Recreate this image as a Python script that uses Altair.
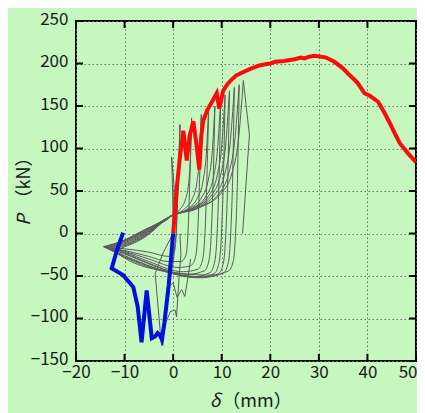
import altair as alt
import pandas as pd

# ---------------- data ----------------
x_ticks = [-20, -10, 0, 10, 20, 30, 40, 50]
y_ticks = [-150, -100, -50, 0, 50, 100, 150, 200, 250]

# loading (upper) branches of the gray hysteresis loops: tip -> peak
up_x = [
    [-12.5, -6, -0.3, 0.38, 0.89, 1.15, 1.28, 1.4],
    [-13.0, -6, -0.3, 1.34, 2.57, 3.19, 3.51, 3.8],
    [-13.5, -6, -0.3, 2.14, 3.97, 4.89, 5.37, 5.8],
    [-14.0, -6, -0.3, 2.74, 5.02, 6.16, 6.77, 7.3],
    [-14.4, -6, -0.3, 3.26, 5.93, 7.27, 8.0, 8.6],
    [-14.2, -6, -0.3, 3.74, 6.77, 8.29, 9.09, 9.8],
    [-13.8, -6, -0.3, 4.1, 7.4, 9.05, 9.93, 10.7],
    [-13.4, -6, -0.3, 4.46, 8.03, 9.82, 10.77, 11.6],
    [-13.0, -6, -0.3, 4.86, 8.73, 10.67, 11.7, 12.6],
    [-12.6, -6, -0.3, 5.26, 9.43, 11.5, 12.63, 13.6],
    [-12.2, -6, -0.3, 5.6, 10.0, 12.2, 13.4, 14.45],
]
up_y = [
    [-17, 4, 21, 30, 48, 70, 95, 128],
    [-17, 4, 21, 28, 41, 59, 84, 136],
    [-16, 3, 21, 28, 41, 60, 86, 140],
    [-16, 2, 21, 28, 42, 62, 89, 145],
    [-15.5, 1, 21, 29, 43, 64, 92, 150],
    [-16, 0, 21, 29, 44, 66, 96, 158],
    [-17, -1, 21, 30, 45, 68, 99, 163],
    [-18, -2, 21, 30, 46, 70, 102, 168],
    [-19, -3, 21, 30, 47, 71, 104, 172],
    [-19, -4, 21, 30, 47, 72, 106, 175],
    [-20, -5, 21, 31, 48, 73, 108, 180],
]

# unloading (lower) branches: peak -> tip
lo_x = [
    [1.4, 1.05, 0.65, 0.2, -0.8, -5, -10, -12.5],
    [3.8, 3.45, 3.05, 2.6, 1.6, -1, -5, -10, -13.0],
    [5.8, 5.45, 5.05, 4.6, 3.6, 1, -5, -10, -13.5],
    [7.3, 6.95, 6.55, 6.1, 5.1, 2, -5, -10, -14.0],
    [8.6, 8.25, 7.85, 7.4, 6.4, 3, -5, -10, -14.4],
    [9.8, 9.45, 9.05, 8.6, 7.6, 4, -4, -10, -14.2],
    [10.7, 10.35, 9.95, 9.5, 8.5, 5, -4, -10, -13.8],
    [11.6, 11.25, 10.85, 10.4, 9.4, 6, -3, -10, -13.4],
    [12.6, 12.25, 11.85, 11.4, 10.4, 7, -3, -10, -13.0],
    [13.6, 13.25, 12.85, 12.4, 11.4, 8, -2, -10, -12.6],
]
lo_y = [
    [128, 65, 0, -22, -27, -22, -18, -17],
    [136, 65, 0, -26, -33, -33, -27, -20, -17],
    [140, 65, 0, -28, -38, -40, -30, -21, -16],
    [145, 65, 0, -30, -42, -45, -33, -22, -16],
    [150, 65, 0, -31, -44, -48, -35, -23, -15.5],
    [158, 65, 0, -32, -46, -51, -38, -24, -16],
    [163, 65, 0, -33, -47, -52, -40, -26, -17],
    [168, 65, 0, -33, -47, -52, -42, -27, -18],
    [172, 65, 0, -33, -46, -51, -43, -28, -19],
    [175, 65, 0, -32, -44, -49, -44, -29, -19],
]

# straight gray pieces: first cycles (negative side) and final unloading
raw_x = [
    [0.0, -0.1, -0.3, 0.2, 0.0, -2.0, -3.7, -2.4, -1.5, -0.6, 0.4, 0.7, 1.0, 1.3, 1.6, 1.4],
    [1.4, 1.2, 0.6, 0.0, -1.0, -0.4, 0.0, 0.8, 1.75, 2.4, 3.1, 3.6],
    [14.45, 15.7, 14.3],
]
raw_y = [
    [0, 45, 90, 55, 0, -22, -47, -132, -105, -92, -90, -98, -70, -45, -25, 0],
    [128, 80, 0, -35, -62, -60, -58, -75, -66, -74, -50, -30],
    [180, 116, 0],
]

# positive envelope (red)
pos_x = [0, 0.3, 0.7, 1.4, 2.1, 2.8, 3.4, 4.15, 4.8, 5.4, 5.8, 6.2, 7.0, 8.0, 8.97, 9.5,
         10.3, 11.2, 12.05, 13.0, 14.45, 16.0, 17.9, 19.0, 20.0, 21.0, 22.9, 24.0, 25.0,
         26.3, 27.0, 28.0, 29.1, 30.5, 31.5, 33.2, 35.0, 36.0, 37.5, 38.0, 39.4, 40.5,
         42.2, 43.5, 44.6, 45.6, 46.7, 48.4, 50.0]
pos_y = [0, 20, 51, 90, 121, 86, 115, 132, 105, 75, 115, 133, 145, 155, 165, 147,
         168, 176, 181, 186, 190, 194, 198, 199, 200, 202, 203, 204, 205,
         207, 206, 208, 209, 208, 207, 202, 194, 188, 180, 177, 165, 162,
         155, 142, 130, 118, 106, 94, 84]

# negative envelope (blue)
neg_x = [0, -0.9, -1.8, -2.3, -2.8, -3.2, -3.7, -4.4, -5.45, -6.5, -7.3, -8.2,
         -10.3, -12.65, -11.6, -10.3]
neg_y = [0, -60, -105, -125, -119, -117, -121, -123, -67, -128, -86, -63,
         -49, -41, -20, 1]


# ---------------- tables ----------------
def long_table(xss, yss, tag):
    rows = []
    for c, (xs, ys) in enumerate(zip(xss, yss)):
        for i, (a, b) in enumerate(zip(xs, ys)):
            rows.append({"x": a, "y": b, "c": f"{tag}{c}", "i": i})
    return pd.DataFrame(rows)


smooth_df = pd.concat([long_table(up_x, up_y, "u"), long_table(lo_x, lo_y, "l")])
raw_df = long_table(raw_x, raw_y, "r")
pos_df = pd.DataFrame({"x": pos_x, "y": pos_y, "i": range(len(pos_x))})
neg_df = pd.DataFrame({"x": neg_x, "y": neg_y, "i": range(len(neg_x))})
xt_df = pd.DataFrame({"t": x_ticks})
yt_df = pd.DataFrame({"t": y_ticks})

FONT = "Noto Sans CJK JP"
W, H = 340, 340
BG = "#c6f7bf"

xscale = alt.Scale(domain=[-20, 50], nice=False, zero=False)
yscale = alt.Scale(domain=[-150, 250], nice=False, zero=False)
common_axis = dict(grid=True, gridDash=[1.5, 2.5], gridColor="#707070", gridWidth=1,
                   domain=False, ticks=False, labelFont=FONT, labelFontSize=17,
                   labelColor="#1a1a1a", labelOverlap=False, labelFlush=False, title=None)
xaxis = alt.Axis(values=x_ticks, labelPadding=3,
                 labelAlign=alt.ExprRef(expr="datum.value == 50 ? 'right' : 'center'"),
                 labelOffset=alt.ExprRef(expr="datum.value == 50 ? 1 : 0"),
                 **common_axis)
yaxis = alt.Axis(values=y_ticks, labelPadding=8, labelOffset=-2, **common_axis)


def X(f):
    return alt.X(f, scale=xscale, axis=xaxis)


def Y(f):
    return alt.Y(f, scale=yscale, axis=yaxis)


GRAY = "#5a5a5a"
gray_s = alt.Chart(smooth_df).mark_line(color=GRAY, strokeWidth=1, clip=True,
                                        interpolate="monotone").encode(
    x=X("x:Q"), y=Y("y:Q"), detail="c:N", order="i:Q")
gray_r = alt.Chart(raw_df).mark_line(color=GRAY, strokeWidth=1, clip=True).encode(
    x=X("x:Q"), y=Y("y:Q"), detail="c:N", order="i:Q")
blue = alt.Chart(neg_df).mark_line(color="#0010dc", strokeWidth=4, clip=True).encode(
    x=X("x:Q"), y=Y("y:Q"), order="i:Q")
red = alt.Chart(pos_df).mark_line(color="#ff0a0a", strokeWidth=4, clip=True).encode(
    x=X("x:Q"), y=Y("y:Q"), order="i:Q")

tick_style = dict(color="black", strokeWidth=2)
tb = alt.Chart(xt_df).mark_rule(**tick_style).encode(x=X("t:Q"), y=alt.value(H), y2=alt.value(H - 7))
tt = alt.Chart(xt_df).mark_rule(**tick_style).encode(x=X("t:Q"), y=alt.value(0), y2=alt.value(7))
tl = alt.Chart(yt_df).mark_rule(**tick_style).encode(y=Y("t:Q"), x=alt.value(0), x2=alt.value(7))
tr = alt.Chart(yt_df).mark_rule(**tick_style).encode(y=Y("t:Q"), x=alt.value(W), x2=alt.value(W - 7))

one = pd.DataFrame({"a": [0]})
title_style = dict(font=FONT, fontSize=18, color="#1a1a1a", baseline="middle")
xt1 = alt.Chart(one).mark_text(fontStyle="italic", align="center", **title_style).encode(
    x=alt.value(139), y=alt.value(381), text=alt.value("δ"))
xt2 = alt.Chart(one).mark_text(align="center", **title_style).encode(
    x=alt.value(181), y=alt.value(381), text=alt.value("（mm）"))
yt1 = alt.Chart(one).mark_text(fontStyle="italic", align="center", angle=270, **title_style).encode(
    x=alt.value(-51), y=alt.value(199), text=alt.value("P"))
yt2 = alt.Chart(one).mark_text(align="center", angle=270, **title_style).encode(
    x=alt.value(-51), y=alt.value(157), text=alt.value("（kN）"))

chart = alt.layer(gray_s, gray_r, blue, red, tb, tt, tl, tr, xt1, xt2, yt1, yt2).properties(
    width=W, height=H,
    autosize=alt.AutoSizeParams(type="none"),
    padding={"left": 68, "top": 13, "right": 1, "bottom": 52},
    background=BG,
).configure_view(stroke="black", strokeWidth=2, fill=BG)

chart.save("out.html", embed_options={"renderer": "svg", "actions": False})
